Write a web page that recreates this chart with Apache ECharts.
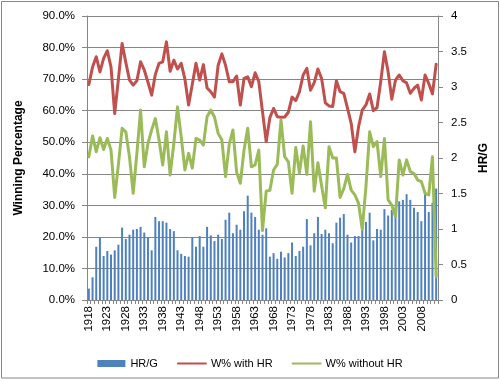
<!DOCTYPE html>
<html><head><meta charset="utf-8">
<script src="https://cdn.jsdelivr.net/npm/echarts@6.0.0/dist/echarts.min.js"></script>
<style>html,body{margin:0;padding:0;background:#fff}#c{width:500px;height:381px}</style>
</head><body><div id="c"></div><script>
const years = ['1918','1919','1920','1921','1922','1923','1924','1925','1926','1927',
'1928','1929','1930','1931','1932','1933','1934','1935','1936','1937',
'1938','1939','1940','1941','1942','1943','1944','1945','1946','1947',
'1948','1949','1950','1951','1952','1953','1954','1955','1956','1957',
'1958','1959','1960','1961','1962','1963','1964','1965','1966','1967',
'1968','1969','1970','1971','1972','1973','1974','1975','1976','1977',
'1978','1979','1980','1981','1982','1983','1984','1985','1986','1987',
'1988','1989','1990','1991','1992','1993','1994','1995','1996','1997',
'1998','1999','2000','2001','2002','2003','2004','2005','2006','2007',
'2008','2009','2010','2011','2012'];

const hrPerGame = [0.16,0.32,0.75,0.88,0.62,0.69,0.64,0.70,0.78,1.02,
0.86,0.92,0.99,1.00,1.03,0.95,0.88,0.70,1.17,1.11,
1.11,1.09,1.00,0.97,0.70,0.65,0.62,0.61,0.88,0.75,
0.90,0.75,1.03,0.91,0.83,0.92,0.86,1.13,1.23,0.94,
1.06,0.99,1.25,1.47,1.23,1.17,0.99,0.92,1.01,0.61,
0.66,0.58,0.68,0.60,0.66,0.81,0.62,0.69,0.75,1.14,
0.77,0.94,1.17,0.93,0.99,0.94,0.80,1.09,1.16,1.21,
0.92,0.81,0.90,0.90,1.01,1.10,1.23,0.84,1.00,0.99,
1.28,1.19,1.27,1.26,1.39,1.41,1.49,1.41,1.30,1.24,
1.11,1.51,1.24,1.37,1.57];

const winPctWithHR = [68.3,73.8,77.1,72.3,76.6,79.0,73.8,59.1,70.0,81.3,
75.3,69.7,68.1,69.5,75.5,72.9,69.0,64.9,71.5,75.0,
75.5,81.8,72.5,76.0,73.2,75.0,70.0,61.8,68.4,75.0,
69.7,74.6,67.2,66.0,64.3,74.4,78.0,74.4,69.2,69.2,
71.0,61.8,70.2,70.7,67.6,72.0,69.2,59.7,50.2,57.8,
60.7,58.1,57.9,58.0,59.5,64.3,63.2,66.0,71.3,73.4,
66.5,68.9,73.2,70.2,62.5,61.5,61.3,69.5,66.0,65.5,
60.8,56.0,47.0,54.9,60.2,61.8,65.3,60.0,61.0,69.2,
78.7,72.3,63.6,69.7,71.3,69.5,68.8,65.5,67.1,68.1,
63.4,71.3,68.6,65.3,74.7];

const winPctWithoutHR = [45.4,52.0,47.0,51.4,47.7,51.2,47.5,32.5,43.0,54.4,
53.3,45.4,33.8,46.5,60.2,42.2,49.6,53.9,57.5,50.7,
42.8,53.3,39.6,49.6,61.2,51.7,41.2,46.5,41.8,51.2,
50.7,49.1,58.1,60.2,58.0,52.8,50.7,39.1,49.4,53.9,
40.5,37.0,47.5,54.4,42.2,42.8,47.5,22.0,34.5,34.8,
41.2,43.0,57.0,45.4,43.8,33.8,48.3,40.2,48.8,39.8,
56.5,34.5,43.5,36.2,29.2,48.6,45.0,45.0,32.5,35.3,
39.8,34.8,33.3,30.6,22.4,35.9,53.3,48.6,50.2,39.1,
51.2,31.7,30.1,26.4,44.4,39.6,44.4,40.7,40.1,38.0,
37.5,33.8,33.3,45.4,7.4];

const seriesNames = ['HR/G','W% with HR','W% without HR'];
const leftAxisTitle = 'Winning Percentage';
const rightAxisTitle = 'HR/G';

const FONT = 'Liberation Sans, Arial, sans-serif';
const GRID = '#868686';
const chart = echarts.init(document.getElementById('c'), null, {renderer:'canvas'});
chart.setOption({
  animation: false,
  backgroundColor: '#fff',
  textStyle: {fontFamily: FONT},
  graphic: [{type:'rect', shape:{x:1.5,y:1.5,width:497,height:376.5},
    style:{fill:'none', stroke:GRID, lineWidth:1}, silent:true}],
  grid: {left:87, right:62, top:16, bottom:81, containLabel:false, outerBoundsMode:'none'},
  legend: {
    data: [
      {name:seriesNames[0], icon:'rect'},
      {name:seriesNames[1], itemStyle:{opacity:0}},
      {name:seriesNames[2], itemStyle:{opacity:0}}
    ],
    left: 'center', top: 353, itemWidth: 28, itemHeight: 7, itemGap: 19,
    textStyle: {fontSize: 11, color:'#000', fontFamily: FONT}
  },
  xAxis: {
    type:'category', data: years, boundaryGap: true,
    axisLine: {lineStyle:{color:GRID, width:1}},
    axisTick: {show:true, interval:0, length:4, lineStyle:{color:GRID}},
    axisLabel: {interval:4, rotate:90, fontSize:11.5, color:'#000', margin:6, fontFamily:FONT},
    splitLine: {show:false}
  },
  yAxis: [{
    type:'value', min:0, max:90, interval:10, position:'left',
    name: leftAxisTitle, nameLocation:'middle', nameGap:62, nameRotate:90,
    nameTextStyle:{fontWeight:'bold', fontSize:12, color:'#000', fontFamily:FONT},
    axisLine:{show:true, lineStyle:{color:GRID}},
    axisTick:{show:true, length:5, lineStyle:{color:GRID}},
    axisLabel:{formatter: v => v.toFixed(1) + '%', margin:12, fontSize:11.5, color:'#000', fontFamily:FONT},
    splitLine:{show:true, lineStyle:{color:GRID, width:1}}
  }, {
    type:'value', min:0, max:4, interval:0.5, position:'right',
    name: rightAxisTitle, nameLocation:'middle', nameGap:36, nameRotate:90,
    nameTextStyle:{fontWeight:'bold', fontSize:12, color:'#000', fontFamily:FONT},
    axisLine:{show:true, lineStyle:{color:GRID}},
    axisTick:{show:true, length:5, lineStyle:{color:GRID}},
    axisLabel:{margin:13, fontSize:11.5, color:'#000', fontFamily:FONT},
    splitLine:{show:false}
  }],
  series: [{
    name: seriesNames[0], type:'bar', yAxisIndex:1, data: hrPerGame,
    barWidth: 2, itemStyle:{color:'#4F81BD'}
  }, {
    name: seriesNames[1], type:'line', yAxisIndex:0, data: winPctWithHR,
    symbol:'none', lineStyle:{color:'#C0504D', width:3, cap:'round', join:'round'},
    itemStyle:{color:'#C0504D'}
  }, {
    name: seriesNames[2], type:'line', yAxisIndex:0, data: winPctWithoutHR,
    symbol:'none', lineStyle:{color:'#9BBB59', width:3, cap:'round', join:'round'},
    itemStyle:{color:'#9BBB59'}
  }]
});
</script></body></html>
